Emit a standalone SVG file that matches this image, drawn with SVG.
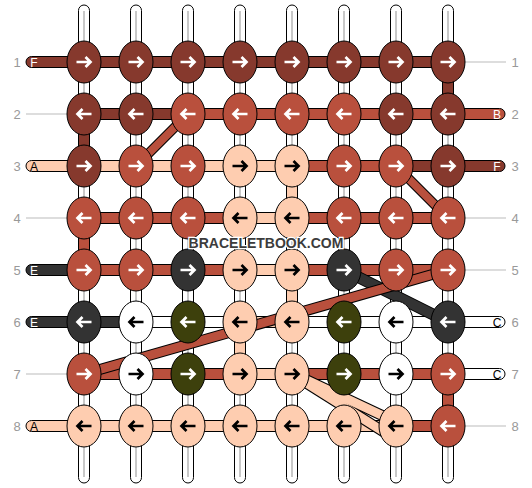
<svg xmlns="http://www.w3.org/2000/svg" xmlns:xlink="http://www.w3.org/1999/xlink" width="532" height="488" viewBox="0 0 532 488">
<style>
.s{stroke:#000;stroke-width:1}
.D{fill:#86392d}.R{fill:#b9503d}.P{fill:#fecdb0}.G{fill:#333333}.O{fill:#3d400c}.W{fill:#ffffff}
.gl{stroke:#c8c8c8;stroke-width:2}
.ll{stroke:#bbbbbb;stroke-width:1}
.lbl{font-family:"Liberation Sans",Arial,sans-serif;font-size:13px;fill:#999999;text-anchor:middle}
.end{font-family:"Liberation Sans",Arial,sans-serif;font-size:12px;text-anchor:middle}
.tw{fill:#fff}.tb{fill:#000}
.aw{stroke:#fff}.ab{stroke:#000}
.dob{stroke:#000;fill:none}
.dD{stroke:#86392d;fill:none}.dR{stroke:#b9503d;fill:none}.dP{stroke:#fecdb0;fill:none}.dG{stroke:#333333;fill:none}
.wm{font-family:"Liberation Sans",Arial,sans-serif;font-size:14px;font-weight:bold;fill:#3c3c3c;stroke:#ffffff;stroke-width:2.5;paint-order:stroke;text-anchor:middle}
</style>
<defs>
<path id="ar" d="M-7.5,0 H6 M1.5,-5 L6.5,0 L1.5,5" fill="none" stroke-width="2.7"/>
<path id="al" d="M7.5,0 H-6 M-1.5,-5 L-6.5,0 L-1.5,5" fill="none" stroke-width="2.7"/>
</defs>

<g id="labels">
<text class="lbl" x="17" y="66.5">1</text><text class="lbl" x="17" y="118.5">2</text><text class="lbl" x="17" y="170.5">3</text><text class="lbl" x="17" y="222.5">4</text>
<text class="lbl" x="17" y="274.5">5</text><text class="lbl" x="17" y="326.5">6</text><text class="lbl" x="17" y="378.5">7</text><text class="lbl" x="17" y="430.5">8</text>
<text class="lbl" x="515" y="66.5">1</text><text class="lbl" x="515" y="118.5">2</text><text class="lbl" x="515" y="170.5">3</text><text class="lbl" x="515" y="222.5">4</text>
<text class="lbl" x="515" y="274.5">5</text><text class="lbl" x="515" y="326.5">6</text><text class="lbl" x="515" y="378.5">7</text><text class="lbl" x="515" y="430.5">8</text>
<line class="ll" x1="26" y1="114" x2="67" y2="114"/><line class="ll" x1="26" y1="218" x2="67" y2="218"/><line class="ll" x1="26" y1="374" x2="67" y2="374"/>
<line class="ll" x1="465" y1="62" x2="506" y2="62"/><line class="ll" x1="465" y1="218" x2="506" y2="218"/><line class="ll" x1="465" y1="270" x2="506" y2="270"/><line class="ll" x1="465" y1="426" x2="506" y2="426"/>
</g>

<g id="connectors">
<g class="s W">
<rect x="78.5" y="5" width="11" height="478" rx="5.5"/><rect x="130.5" y="5" width="11" height="478" rx="5.5"/>
<rect x="182.5" y="5" width="11" height="478" rx="5.5"/><rect x="234.5" y="5" width="11" height="478" rx="5.5"/>
<rect x="286.5" y="5" width="11" height="478" rx="5.5"/><rect x="338.5" y="5" width="11" height="478" rx="5.5"/>
<rect x="390.5" y="5" width="11" height="478" rx="5.5"/><rect x="442.5" y="5" width="11" height="478" rx="5.5"/>
</g>
<g class="gl">
<line x1="84" y1="11" x2="84" y2="477"/><line x1="136" y1="11" x2="136" y2="477"/><line x1="188" y1="11" x2="188" y2="477"/><line x1="240" y1="11" x2="240" y2="477"/>
<line x1="292" y1="11" x2="292" y2="477"/><line x1="344" y1="11" x2="344" y2="477"/><line x1="396" y1="11" x2="396" y2="477"/><line x1="448" y1="11" x2="448" y2="477"/>
</g>
<rect class="s D" x="442.5" y="62" width="11" height="52"/>
<rect class="s D" x="78.5" y="114" width="11" height="52"/>
<rect class="s P" x="286.5" y="166" width="11" height="52"/>
<rect class="s R" x="78.5" y="218" width="11" height="52"/>
<rect class="s P" x="286.5" y="270" width="11" height="52"/>
<rect class="s P" x="234.5" y="322" width="11" height="52"/>
<rect class="s R" x="442.5" y="374" width="11" height="52"/>

<rect class="s D" x="26" y="56.5" width="64" height="11" rx="5.5"/>
<rect class="s P" x="26" y="160.5" width="64" height="11" rx="5.5"/>
<rect class="s G" x="26" y="264.5" width="64" height="11" rx="5.5"/>
<rect class="s G" x="26" y="316.5" width="64" height="11" rx="5.5"/>
<rect class="s P" x="26" y="420.5" width="64" height="11" rx="5.5"/>
<rect class="s R" x="442" y="108.5" width="63" height="11" rx="5.5"/>
<rect class="s D" x="442" y="160.5" width="63" height="11" rx="5.5"/>
<rect class="s W" x="442" y="316.5" width="63" height="11" rx="5.5"/>
<rect class="s W" x="442" y="368.5" width="63" height="11" rx="5.5"/>

<g class="s">
<rect class="D" x="84" y="56.5" width="52" height="11"/><rect class="D" x="136" y="56.5" width="52" height="11"/><rect class="D" x="188" y="56.5" width="52" height="11"/><rect class="D" x="240" y="56.5" width="52" height="11"/><rect class="D" x="292" y="56.5" width="52" height="11"/><rect class="D" x="344" y="56.5" width="52" height="11"/><rect class="D" x="396" y="56.5" width="52" height="11"/>
<rect class="D" x="84" y="108.5" width="52" height="11"/><rect class="D" x="136" y="108.5" width="52" height="11"/><rect class="R" x="188" y="108.5" width="52" height="11"/><rect class="R" x="240" y="108.5" width="52" height="11"/><rect class="R" x="292" y="108.5" width="52" height="11"/><rect class="R" x="344" y="108.5" width="52" height="11"/><rect class="R" x="396" y="108.5" width="52" height="11"/>
<rect class="P" x="84" y="160.5" width="52" height="11"/><rect class="P" x="136" y="160.5" width="52" height="11"/><rect class="P" x="188" y="160.5" width="52" height="11"/><rect class="P" x="240" y="160.5" width="52" height="11"/><rect class="R" x="292" y="160.5" width="52" height="11"/><rect class="R" x="344" y="160.5" width="52" height="11"/><rect class="D" x="396" y="160.5" width="52" height="11"/>
<rect class="R" x="84" y="212.5" width="52" height="11"/><rect class="R" x="136" y="212.5" width="52" height="11"/><rect class="R" x="188" y="212.5" width="52" height="11"/><rect class="P" x="240" y="212.5" width="52" height="11"/><rect class="R" x="292" y="212.5" width="52" height="11"/><rect class="R" x="344" y="212.5" width="52" height="11"/><rect class="R" x="396" y="212.5" width="52" height="11"/>
<rect class="R" x="84" y="264.5" width="52" height="11"/><rect class="R" x="136" y="264.5" width="52" height="11"/><rect class="R" x="188" y="264.5" width="52" height="11"/><rect class="P" x="240" y="264.5" width="52" height="11"/><rect class="R" x="292" y="264.5" width="52" height="11"/><rect class="R" x="344" y="264.5" width="52" height="11"/><rect class="R" x="396" y="264.5" width="52" height="11"/>
<rect class="G" x="84" y="316.5" width="52" height="11"/><rect class="W" x="136" y="316.5" width="52" height="11"/><rect class="W" x="188" y="316.5" width="52" height="11"/><rect class="P" x="240" y="316.5" width="52" height="11"/><rect class="W" x="292" y="316.5" width="52" height="11"/><rect class="W" x="344" y="316.5" width="52" height="11"/><rect class="W" x="396" y="316.5" width="52" height="11"/>
<rect class="R" x="84" y="368.5" width="52" height="11"/><rect class="R" x="136" y="368.5" width="52" height="11"/><rect class="R" x="188" y="368.5" width="52" height="11"/><rect class="P" x="240" y="368.5" width="52" height="11"/><rect class="R" x="292" y="368.5" width="52" height="11"/><rect class="R" x="344" y="368.5" width="52" height="11"/><rect class="R" x="396" y="368.5" width="52" height="11"/>
<rect class="P" x="84" y="420.5" width="52" height="11"/><rect class="P" x="136" y="420.5" width="52" height="11"/><rect class="P" x="188" y="420.5" width="52" height="11"/><rect class="P" x="240" y="420.5" width="52" height="11"/><rect class="P" x="292" y="420.5" width="52" height="11"/><rect class="P" x="344" y="420.5" width="52" height="11"/><rect class="R" x="396" y="420.5" width="52" height="11"/>
</g>

<line class="dob" x1="188" y1="114" x2="136" y2="166" stroke-width="10"/><line class="dR" x1="188" y1="114" x2="136" y2="166" stroke-width="8"/>
<line class="dob" x1="396" y1="166" x2="448" y2="218" stroke-width="10"/><line class="dR" x1="396" y1="166" x2="448" y2="218" stroke-width="8"/>
<line class="dob" x1="344" y1="270" x2="448" y2="322" stroke-width="12"/><line class="dG" x1="344" y1="270" x2="448" y2="322" stroke-width="10"/>
<line class="dob" x1="448" y1="270" x2="84" y2="374" stroke-width="11"/><line class="dR" x1="448" y1="270" x2="84" y2="374" stroke-width="9"/>
<line class="dob" x1="292" y1="374" x2="384" y2="432" stroke-width="11"/><line class="dob" x1="292" y1="373" x2="396" y2="422" stroke-width="11"/>
<line class="dP" x1="292" y1="374" x2="384" y2="432" stroke-width="9"/><line class="dP" x1="292" y1="373" x2="396" y2="422" stroke-width="9"/>

<text class="end tw" x="34" y="66.5">F</text>
<text class="end tb" x="34" y="170.5">A</text>
<text class="end tw" x="34" y="274.5">E</text>
<text class="end tw" x="34" y="326.5">E</text>
<text class="end tb" x="34" y="430.5">A</text>
<text class="end tw" x="497" y="118.5">B</text>
<text class="end tw" x="497" y="170.5">F</text>
<text class="end tb" x="497" y="326.5">C</text>
<text class="end tb" x="497" y="378.5">C</text>
</g>

<g id="knots" class="s">
<g id="k1-1"><ellipse class="D" cx="84" cy="62" rx="17" ry="21"/><use href="#ar" x="84" y="62" class="aw"/></g>
<g id="k1-2"><ellipse class="D" cx="136" cy="62" rx="17" ry="21"/><use href="#ar" x="136" y="62" class="aw"/></g>
<g id="k1-3"><ellipse class="D" cx="188" cy="62" rx="17" ry="21"/><use href="#ar" x="188" y="62" class="aw"/></g>
<g id="k1-4"><ellipse class="D" cx="240" cy="62" rx="17" ry="21"/><use href="#ar" x="240" y="62" class="aw"/></g>
<g id="k1-5"><ellipse class="D" cx="292" cy="62" rx="17" ry="21"/><use href="#ar" x="292" y="62" class="aw"/></g>
<g id="k1-6"><ellipse class="D" cx="344" cy="62" rx="17" ry="21"/><use href="#ar" x="344" y="62" class="aw"/></g>
<g id="k1-7"><ellipse class="D" cx="396" cy="62" rx="17" ry="21"/><use href="#ar" x="396" y="62" class="aw"/></g>
<g id="k1-8"><ellipse class="D" cx="448" cy="62" rx="17" ry="21"/><use href="#ar" x="448" y="62" class="aw"/></g>

<g id="k2-1"><ellipse class="D" cx="84" cy="114" rx="17" ry="21"/><use href="#al" x="84" y="114" class="aw"/></g>
<g id="k2-2"><ellipse class="D" cx="136" cy="114" rx="17" ry="21"/><use href="#al" x="136" y="114" class="aw"/></g>
<g id="k2-3"><ellipse class="R" cx="188" cy="114" rx="17" ry="21"/><use href="#al" x="188" y="114" class="aw"/></g>
<g id="k2-4"><ellipse class="R" cx="240" cy="114" rx="17" ry="21"/><use href="#al" x="240" y="114" class="aw"/></g>
<g id="k2-5"><ellipse class="R" cx="292" cy="114" rx="17" ry="21"/><use href="#al" x="292" y="114" class="aw"/></g>
<g id="k2-6"><ellipse class="R" cx="344" cy="114" rx="17" ry="21"/><use href="#al" x="344" y="114" class="aw"/></g>
<g id="k2-7"><ellipse class="D" cx="396" cy="114" rx="17" ry="21"/><use href="#al" x="396" y="114" class="aw"/></g>
<g id="k2-8"><ellipse class="D" cx="448" cy="114" rx="17" ry="21"/><use href="#al" x="448" y="114" class="aw"/></g>

<g id="k3-1"><ellipse class="D" cx="84" cy="166" rx="17" ry="21"/><use href="#ar" x="84" y="166" class="aw"/></g>
<g id="k3-2"><ellipse class="R" cx="136" cy="166" rx="17" ry="21"/><use href="#ar" x="136" y="166" class="aw"/></g>
<g id="k3-3"><ellipse class="R" cx="188" cy="166" rx="17" ry="21"/><use href="#ar" x="188" y="166" class="aw"/></g>
<g id="k3-4"><ellipse class="P" cx="240" cy="166" rx="17" ry="21"/><use href="#ar" x="240" y="166" class="ab"/></g>
<g id="k3-5"><ellipse class="P" cx="292" cy="166" rx="17" ry="21"/><use href="#ar" x="292" y="166" class="ab"/></g>
<g id="k3-6"><ellipse class="R" cx="344" cy="166" rx="17" ry="21"/><use href="#ar" x="344" y="166" class="aw"/></g>
<g id="k3-7"><ellipse class="R" cx="396" cy="166" rx="17" ry="21"/><use href="#ar" x="396" y="166" class="aw"/></g>
<g id="k3-8"><ellipse class="D" cx="448" cy="166" rx="17" ry="21"/><use href="#ar" x="448" y="166" class="aw"/></g>

<g id="k4-1"><ellipse class="R" cx="84" cy="218" rx="17" ry="21"/><use href="#al" x="84" y="218" class="aw"/></g>
<g id="k4-2"><ellipse class="R" cx="136" cy="218" rx="17" ry="21"/><use href="#al" x="136" y="218" class="aw"/></g>
<g id="k4-3"><ellipse class="R" cx="188" cy="218" rx="17" ry="21"/><use href="#al" x="188" y="218" class="aw"/></g>
<g id="k4-4"><ellipse class="P" cx="240" cy="218" rx="17" ry="21"/><use href="#al" x="240" y="218" class="ab"/></g>
<g id="k4-5"><ellipse class="P" cx="292" cy="218" rx="17" ry="21"/><use href="#al" x="292" y="218" class="ab"/></g>
<g id="k4-6"><ellipse class="R" cx="344" cy="218" rx="17" ry="21"/><use href="#al" x="344" y="218" class="aw"/></g>
<g id="k4-7"><ellipse class="R" cx="396" cy="218" rx="17" ry="21"/><use href="#al" x="396" y="218" class="aw"/></g>
<g id="k4-8"><ellipse class="R" cx="448" cy="218" rx="17" ry="21"/><use href="#al" x="448" y="218" class="aw"/></g>

<g id="k5-1"><ellipse class="R" cx="84" cy="270" rx="17" ry="21"/><use href="#ar" x="84" y="270" class="aw"/></g>
<g id="k5-2"><ellipse class="R" cx="136" cy="270" rx="17" ry="21"/><use href="#ar" x="136" y="270" class="aw"/></g>
<g id="k5-3"><ellipse class="G" cx="188" cy="270" rx="17" ry="21"/><use href="#ar" x="188" y="270" class="aw"/></g>
<g id="k5-4"><ellipse class="P" cx="240" cy="270" rx="17" ry="21"/><use href="#ar" x="240" y="270" class="ab"/></g>
<g id="k5-5"><ellipse class="P" cx="292" cy="270" rx="17" ry="21"/><use href="#ar" x="292" y="270" class="ab"/></g>
<g id="k5-6"><ellipse class="G" cx="344" cy="270" rx="17" ry="21"/><use href="#ar" x="344" y="270" class="aw"/></g>
<g id="k5-7"><ellipse class="R" cx="396" cy="270" rx="17" ry="21"/><use href="#ar" x="396" y="270" class="aw"/></g>
<g id="k5-8"><ellipse class="R" cx="448" cy="270" rx="17" ry="21"/><use href="#ar" x="448" y="270" class="aw"/></g>

<g id="k6-1"><ellipse class="G" cx="84" cy="322" rx="17" ry="21"/><use href="#al" x="84" y="322" class="aw"/></g>
<g id="k6-2"><ellipse class="W" cx="136" cy="322" rx="17" ry="21"/><use href="#al" x="136" y="322" class="ab"/></g>
<g id="k6-3"><ellipse class="O" cx="188" cy="322" rx="17" ry="21"/><use href="#al" x="188" y="322" class="aw"/></g>
<g id="k6-4"><ellipse class="P" cx="240" cy="322" rx="17" ry="21"/><use href="#al" x="240" y="322" class="ab"/></g>
<g id="k6-5"><ellipse class="P" cx="292" cy="322" rx="17" ry="21"/><use href="#al" x="292" y="322" class="ab"/></g>
<g id="k6-6"><ellipse class="O" cx="344" cy="322" rx="17" ry="21"/><use href="#al" x="344" y="322" class="aw"/></g>
<g id="k6-7"><ellipse class="W" cx="396" cy="322" rx="17" ry="21"/><use href="#al" x="396" y="322" class="ab"/></g>
<g id="k6-8"><ellipse class="G" cx="448" cy="322" rx="17" ry="21"/><use href="#al" x="448" y="322" class="aw"/></g>

<g id="k7-1"><ellipse class="R" cx="84" cy="374" rx="17" ry="21"/><use href="#ar" x="84" y="374" class="aw"/></g>
<g id="k7-2"><ellipse class="W" cx="136" cy="374" rx="17" ry="21"/><use href="#ar" x="136" y="374" class="ab"/></g>
<g id="k7-3"><ellipse class="O" cx="188" cy="374" rx="17" ry="21"/><use href="#ar" x="188" y="374" class="aw"/></g>
<g id="k7-4"><ellipse class="P" cx="240" cy="374" rx="17" ry="21"/><use href="#ar" x="240" y="374" class="ab"/></g>
<g id="k7-5"><ellipse class="P" cx="292" cy="374" rx="17" ry="21"/><use href="#ar" x="292" y="374" class="ab"/></g>
<g id="k7-6"><ellipse class="O" cx="344" cy="374" rx="17" ry="21"/><use href="#ar" x="344" y="374" class="aw"/></g>
<g id="k7-7"><ellipse class="W" cx="396" cy="374" rx="17" ry="21"/><use href="#ar" x="396" y="374" class="ab"/></g>
<g id="k7-8"><ellipse class="R" cx="448" cy="374" rx="17" ry="21"/><use href="#ar" x="448" y="374" class="aw"/></g>

<g id="k8-1"><ellipse class="P" cx="84" cy="426" rx="17" ry="21"/><use href="#al" x="84" y="426" class="ab"/></g>
<g id="k8-2"><ellipse class="P" cx="136" cy="426" rx="17" ry="21"/><use href="#al" x="136" y="426" class="ab"/></g>
<g id="k8-3"><ellipse class="P" cx="188" cy="426" rx="17" ry="21"/><use href="#al" x="188" y="426" class="ab"/></g>
<g id="k8-4"><ellipse class="P" cx="240" cy="426" rx="17" ry="21"/><use href="#al" x="240" y="426" class="ab"/></g>
<g id="k8-5"><ellipse class="P" cx="292" cy="426" rx="17" ry="21"/><use href="#al" x="292" y="426" class="ab"/></g>
<g id="k8-6"><ellipse class="P" cx="344" cy="426" rx="17" ry="21"/><use href="#al" x="344" y="426" class="ab"/></g>
<g id="k8-7"><ellipse class="P" cx="396" cy="426" rx="17" ry="21"/><use href="#al" x="396" y="426" class="ab"/></g>
<g id="k8-8"><ellipse class="R" cx="448" cy="426" rx="17" ry="21"/><use href="#al" x="448" y="426" class="aw"/></g>
</g>

<text class="wm" x="266" y="248">BRACELETBOOK.COM</text>
</svg>
